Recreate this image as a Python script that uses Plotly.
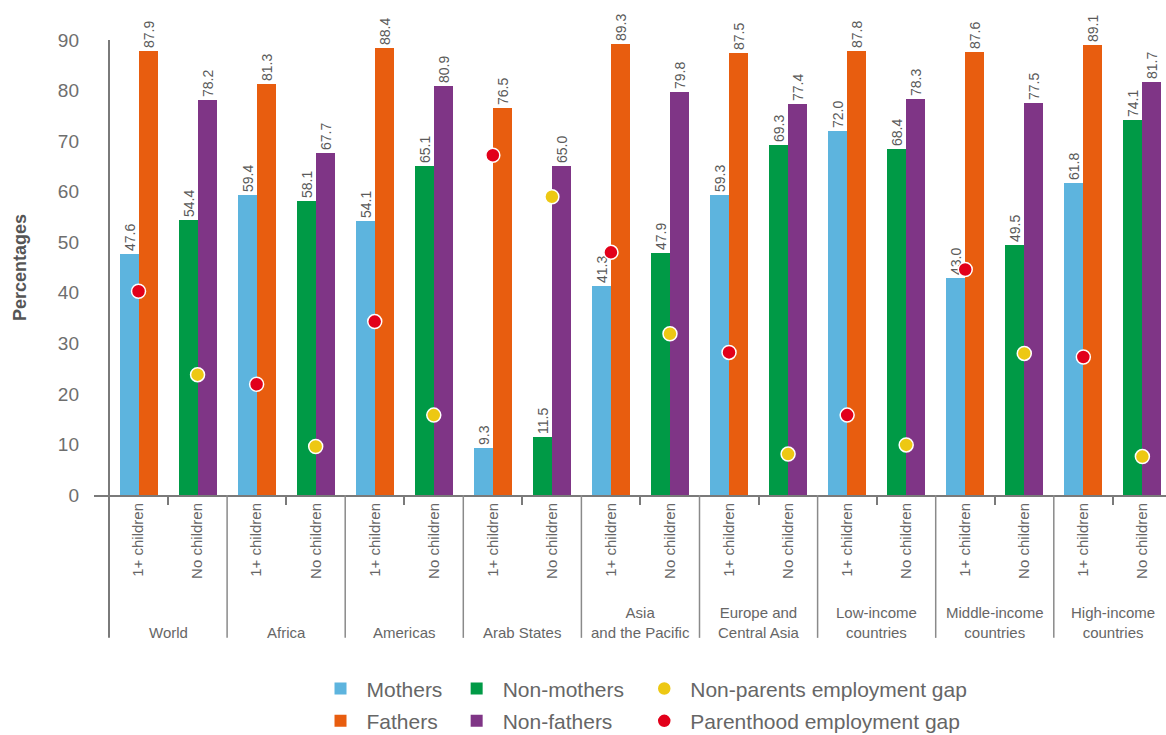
import plotly.graph_objects as go

# ---------------- data ----------------
regions = ["World", "Africa", "Americas", "Arab States", "Asia<br>and the Pacific",
           "Europe and<br>Central Asia", "Low-income<br>countries",
           "Middle-income<br>countries", "High-income<br>countries"]
subgroups = ["1+ children", "No children"]

mothers = [47.6, 59.4, 54.1, 9.3, 41.3, 59.3, 72.0, 43.0, 61.8]
fathers = [87.9, 81.3, 88.4, 76.5, 89.3, 87.5, 87.8, 87.6, 89.1]
non_mothers = [54.4, 58.1, 65.1, 11.5, 47.9, 69.3, 68.4, 49.5, 74.1]
non_fathers = [78.2, 67.7, 80.9, 65.0, 79.8, 77.4, 78.3, 77.5, 81.7]
parenthood_gap = [40.3, 21.9, 34.3, 67.2, 48.0, 28.2, 15.8, 44.6, 27.3]
nonparents_gap = [23.8, 9.6, 15.8, 59.0, 31.9, 8.1, 9.9, 28.0, 7.6]

y_ticks = [0, 10, 20, 30, 40, 50, 60, 70, 80, 90]

# ---------------- style ----------------
C_MOTH = "#5db4de"
C_FATH = "#e85d0f"
C_NMOTH = "#009a46"
C_NFATH = "#7f3586"
C_YEL = "#edc813"
C_RED = "#e2001a"
TXT = "#666666"
LINE = "#7a7a7a"
FONT = "Liberation Sans, Arial, sans-serif"

n = len(regions)
x_par = [2 * i for i in range(n)]        # "1+ children" slots
x_non = [2 * i + 1 for i in range(n)]    # "No children" slots
BW = 0.322

fig = go.Figure()


def bar(name, x, y, color, offset, legend):
    return go.Bar(
        name=name, x=x, y=y, marker_color=color, marker_line_width=0,
        width=BW, offset=offset, legendgroup=name,
        text=[f"{v:.1f}" for v in y], textposition="outside", textangle=-90,
        textfont=dict(size=14, color="#5a5a5a", family=FONT),
        constraintext="none", cliponaxis=False, legend=legend,
    )


fig.add_trace(bar("Mothers", x_par, mothers, C_MOTH, -BW, "legend"))
fig.add_trace(bar("Fathers", x_par, fathers, C_FATH, 0, "legend"))
fig.add_trace(bar("Non-mothers", x_non, non_mothers, C_NMOTH, -BW, "legend2"))
fig.add_trace(bar("Non-fathers", x_non, non_fathers, C_NFATH, 0, "legend2"))

fig.add_trace(go.Scatter(
    name="Non-parents employment gap", x=x_non, y=nonparents_gap, mode="markers",
    legendgroup="np",
    marker=dict(size=14, color=C_YEL, line=dict(color="white", width=1.5)),
    cliponaxis=False, legend="legend3"))
fig.add_trace(go.Scatter(
    name="Parenthood employment gap", x=x_par, y=parenthood_gap, mode="markers",
    legendgroup="pg",
    marker=dict(size=14, color=C_RED, line=dict(color="white", width=1.5)),
    cliponaxis=False, legend="legend3"))

# separators between regions
shapes = [dict(type="line", xref="x", yref="paper", x0=-0.5, x1=-0.5, y0=-0.314, y1=1.0,
               line=dict(color=LINE, width=2))]
for k in range(1, n):
    shapes.append(dict(type="line", xref="x", yref="paper", x0=2 * k - 0.5, x1=2 * k - 0.5,
                       y0=-0.314, y1=0, line=dict(color="#8a8a8a", width=1.5)))

annotations = [dict(x=2 * i + 0.5, y=-0.325, xref="x", yref="paper", text=r,
                    showarrow=False, yanchor="bottom", xanchor="center",
                    font=dict(size=15, color=TXT, family=FONT))
               for i, r in enumerate(regions)]

leg_common = dict(orientation="v", yanchor="top", y=-0.381, xanchor="left",
                  font=dict(size=21, color=TXT, family=FONT), bgcolor="rgba(0,0,0,0)",
                  tracegroupgap=2, traceorder="grouped", itemwidth=42)

fig.update_layout(
    width=1166, height=735,
    margin=dict(l=94, r=0, t=40, b=240, autoexpand=False),
    plot_bgcolor="white", paper_bgcolor="white",
    font=dict(family=FONT, color=TXT),
    barmode="overlay", bargap=0,
    shapes=shapes, annotations=annotations,
    legend=dict(x=0.2057, **leg_common),
    legend2=dict(x=0.3327, **leg_common),
    legend3=dict(x=0.5077, **leg_common),
    xaxis=dict(
        range=[-0.754, 17.40], showgrid=False, zeroline=False,
        showline=True, linecolor=LINE, linewidth=2,
        tickmode="array", tickvals=list(range(2 * n)), ticktext=subgroups * n,
        tickangle=-90, ticks="", tickfont=dict(size=15, color=TXT, family=FONT),
        minor=dict(ticks="outside", tickmode="linear", tick0=0.5, dtick=2,
                   ticklen=8, tickwidth=1.5, tickcolor=LINE, showgrid=False),
    ),
    yaxis=dict(
        range=[0, 90], showgrid=False, zeroline=False, showline=False,
        tickmode="array", tickvals=y_ticks, ticks="", ticklabelstandoff=14,
        tickfont=dict(size=19, color="#6e6e6e", family=FONT),
        title=dict(text="<b>Percentages</b>", standoff=26,
                   font=dict(size=18, color="#555555", family=FONT)),
    ),
)

fig.write_html("out.html", config={"displayModeBar": False},
               post_script="document.body.style.margin='0';document.body.style.overflow='hidden';")
